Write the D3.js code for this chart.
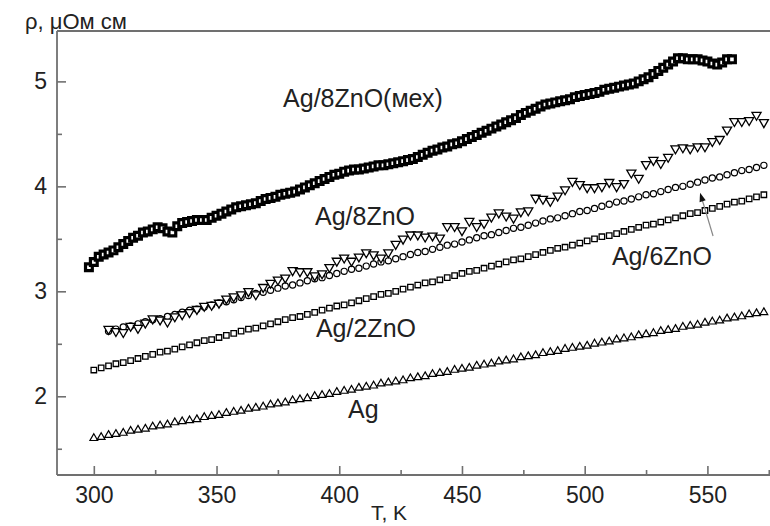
<!DOCTYPE html>
<html><head><meta charset="utf-8">
<script src="https://cdn.jsdelivr.net/npm/d3@7"></script>
<style>body{margin:0;background:#fff}svg{display:block}</style></head>
<body><svg id="c" width="770" height="526"></svg>
<script>
// ---- data ----
const tempsA = [300,303,306,309,312,315,318,321,324,327,330,333,336,339,342,345,348,351,354,357,360,363,366,369,372,375,378,381,384,387,390,393,396,399,402,405,408,411,414,417,420,423,426,429,432,435,438,441,444,447,450,453,456,459,462,465,468,471,474,477,480,483,486,489,492,495,498,501,504,507,510,513,516,519,522,525,528,531,534,537,540,543,546,549,552,555,558,561,564,567,570,573];
const tempsB = [306,309,312,315,318,321,324,327,330,333,336,339,342,345,348,351,354,357,360,363,366,369,372,375,378,381,384,387,390,393,396,399,402,405,408,411,414,417,420,423,426,429,432,435,438,441,444,447,450,453,456,459,462,465,468,471,474,477,480,483,486,489,492,495,498,501,504,507,510,513,516,519,522,525,528,531,534,537,540,543,546,549,552,555,558,561,564,567,570,573];
const tempsMech = [298,300,302,304,306,308,310,312,314,316,318,320,322,324,326,328,330,332,334,336,338,340,342,344,346,348,350,352,354,356,358,360,362,364,366,368,370,372,374,376,378,380,382,384,386,388,390,392,394,396,398,400,402,404,406,408,410,412,414,416,418,420,422,424,426,428,430,432,434,436,438,440,442,444,446,448,450,452,454,456,458,460,462,464,466,468,470,472,474,476,478,480,482,484,486,488,490,492,494,496,498,500,502,504,506,508,510,512,514,516,518,520,522,524,526,528,530,532,534,536,538,540,542,544,546,548,550,552,554,556,558,560];

const rhoAg = [1.60,1.61,1.63,1.64,1.65,1.67,1.68,1.69,1.71,1.72,1.73,1.75,1.76,1.77,1.78,1.80,1.81,1.82,1.84,1.85,1.86,1.88,1.89,1.90,1.92,1.93,1.94,1.96,1.97,1.98,2.00,2.01,2.02,2.04,2.05,2.06,2.08,2.09,2.10,2.12,2.13,2.14,2.15,2.17,2.18,2.19,2.21,2.22,2.23,2.25,2.26,2.27,2.29,2.30,2.31,2.33,2.34,2.35,2.37,2.38,2.39,2.41,2.42,2.43,2.45,2.46,2.47,2.48,2.50,2.51,2.52,2.54,2.55,2.56,2.58,2.59,2.60,2.62,2.63,2.64,2.66,2.67,2.68,2.70,2.71,2.72,2.74,2.75,2.76,2.78,2.79,2.80];
const rhoAg2ZnO = [2.25,2.27,2.29,2.31,2.32,2.34,2.36,2.38,2.40,2.42,2.43,2.45,2.47,2.49,2.51,2.53,2.54,2.56,2.58,2.60,2.62,2.64,2.65,2.67,2.69,2.71,2.73,2.75,2.76,2.78,2.80,2.82,2.84,2.86,2.87,2.89,2.91,2.93,2.95,2.97,2.98,3.00,3.02,3.04,3.06,3.08,3.09,3.11,3.13,3.15,3.17,3.19,3.20,3.22,3.24,3.26,3.28,3.30,3.31,3.33,3.35,3.37,3.39,3.41,3.42,3.44,3.46,3.48,3.50,3.52,3.53,3.55,3.57,3.59,3.61,3.63,3.64,3.66,3.68,3.70,3.72,3.74,3.75,3.77,3.79,3.81,3.83,3.85,3.86,3.88,3.90,3.92];
const rhoAg6ZnO = [2.62,2.64,2.66,2.67,2.69,2.71,2.73,2.74,2.76,2.78,2.80,2.82,2.83,2.85,2.87,2.89,2.90,2.92,2.94,2.96,2.98,2.99,3.01,3.03,3.05,3.06,3.08,3.10,3.12,3.13,3.15,3.17,3.19,3.21,3.22,3.24,3.26,3.28,3.29,3.31,3.33,3.35,3.37,3.38,3.40,3.42,3.44,3.45,3.47,3.49,3.51,3.53,3.54,3.56,3.58,3.60,3.61,3.63,3.65,3.67,3.69,3.70,3.72,3.74,3.76,3.77,3.79,3.81,3.83,3.85,3.86,3.88,3.90,3.92,3.93,3.95,3.97,3.99,4.00,4.02,4.04,4.06,4.08,4.09,4.11,4.13,4.15,4.16,4.18,4.20];
const rhoAg8ZnO = [2.64,2.62,2.61,2.67,2.65,2.70,2.74,2.73,2.71,2.76,2.78,2.80,2.83,2.86,2.87,2.89,2.93,2.95,2.97,3.00,2.97,3.04,3.08,3.11,3.13,3.20,3.19,3.19,3.15,3.17,3.23,3.29,3.32,3.29,3.33,3.37,3.35,3.32,3.37,3.45,3.50,3.54,3.54,3.52,3.53,3.51,3.62,3.62,3.58,3.67,3.62,3.65,3.71,3.75,3.72,3.70,3.76,3.77,3.89,3.88,3.86,3.91,3.97,4.05,4.02,3.99,3.99,4.00,4.04,4.00,4.03,4.13,4.08,4.21,4.25,4.22,4.28,4.36,4.37,4.36,4.38,4.38,4.43,4.45,4.54,4.62,4.62,4.63,4.68,4.61];
const rhoMech = [3.23,3.28,3.33,3.35,3.37,3.39,3.42,3.45,3.48,3.51,3.53,3.56,3.57,3.59,3.61,3.60,3.57,3.56,3.62,3.65,3.66,3.67,3.68,3.68,3.68,3.70,3.72,3.74,3.76,3.78,3.80,3.81,3.82,3.83,3.84,3.86,3.88,3.89,3.90,3.92,3.93,3.94,3.95,3.97,3.99,4.01,4.03,4.05,4.07,4.09,4.11,4.12,4.14,4.15,4.16,4.16,4.17,4.18,4.19,4.20,4.20,4.21,4.22,4.23,4.24,4.25,4.26,4.28,4.30,4.32,4.34,4.35,4.37,4.38,4.40,4.41,4.43,4.45,4.47,4.49,4.51,4.53,4.55,4.57,4.59,4.61,4.63,4.65,4.68,4.70,4.72,4.74,4.76,4.78,4.79,4.80,4.81,4.82,4.83,4.85,4.86,4.87,4.88,4.89,4.90,4.92,4.93,4.94,4.95,4.96,4.97,4.98,5.00,5.02,5.04,5.07,5.10,5.13,5.16,5.19,5.22,5.22,5.21,5.21,5.21,5.20,5.19,5.17,5.16,5.18,5.21,5.21];

const xMajor = [300,350,400,450,500,550];
const xMinor = [325,375,425,475,525,575];
const yMajor = [2,3,4,5];
const yMinor = [1.5,2.5,3.5,4.5];

const labels = [
  {text:"Ag/8ZnO(мех)", t:377.1, v:4.756},
  {text:"Ag/8ZnO", t:390.1, v:3.632},
  {text:"Ag/2ZnO", t:390.5, v:2.565},
  {text:"Ag", t:403.6, v:1.79},
  {text:"Ag/6ZnO", t:511.1, v:3.251}
];
const arrowFrom = {t:552.3, v:3.527};
const arrowTo = {t:547.0, v:3.94};

// ---- chart ----
const svg = d3.select("#c");
const W = 770, H = 526;
const x = d3.scaleLinear().domain([285, 575.5]).range([57, 770]);
const y = d3.scaleLinear().domain([1.25, 5.48]).range([475, 31]);
const axisColor = "#707070";
const font = "'Liberation Sans', Arial, Helvetica, sans-serif";

function styleAxis(g){
  g.select(".domain").remove();
  g.selectAll(".tick line").attr("stroke", axisColor).attr("stroke-width", 1.6);
  g.selectAll("text").attr("fill","#222").style("font-family", font).style("font-size","23px");
}

// x axis
svg.append("g").attr("transform","translate(0,475)")
  .call(d3.axisBottom(x).tickValues(xMajor).tickSize(-9).tickPadding(12).tickFormat(d3.format("d")))
  .call(styleAxis);
svg.append("g").attr("transform","translate(0,475)")
  .call(d3.axisBottom(x).tickValues(xMinor).tickSize(-5).tickFormat(""))
  .call(styleAxis);
// y axis
svg.append("g").attr("transform","translate(57,0)")
  .call(d3.axisLeft(y).tickValues(yMajor).tickSize(-9).tickPadding(10).tickFormat(d3.format("d")))
  .call(styleAxis);
svg.append("g").attr("transform","translate(57,0)")
  .call(d3.axisLeft(y).tickValues(yMinor).tickSize(-5).tickFormat(""))
  .call(styleAxis);

// frame lines
const frame = svg.append("g").attr("stroke", axisColor).attr("stroke-width", 1.8).attr("fill","none");
frame.append("line").attr("x1",57).attr("x2",57).attr("y1",y.range()[1]).attr("y2",y.range()[0]);
frame.append("line").attr("x1",57).attr("x2",W).attr("y1",475).attr("y2",475);
frame.append("line").attr("x1",57).attr("x2",W).attr("y1",31).attr("y2",31);

// axis titles
svg.append("text").attr("x",25).attr("y",29).text("ρ, μОм см")
  .style("font-family",font).style("font-size","22px").attr("fill","#222");
svg.append("text").attr("x",389).attr("y",520).attr("text-anchor","middle").text("T, K")
  .style("font-family",font).style("font-size","21px").attr("fill","#222");

// series
function zip(ts, vs){ return ts.map((t,i)=>({t, v:vs[i]})); }
const plot = svg.append("g");

function drawSymbols(data, type, size, rotate, sw){
  const sym = d3.symbol().type(type).size(size);
  plot.append("g").selectAll("path").data(data).join("path")
    .attr("d", sym)
    .attr("transform", d => `translate(${x(d.t)},${y(d.v)})` + (rotate ? ` rotate(${rotate})` : ""))
    .attr("fill","#fff").attr("stroke","#000").attr("stroke-width", sw);
}

drawSymbols(zip(tempsA, rhoAg), d3.symbolTriangle, 26, 0, 1.2);
drawSymbols(zip(tempsA, rhoAg2ZnO), d3.symbolSquare, 30, 0, 1.3);
plot.append("g").selectAll("circle").data(zip(tempsB, rhoAg6ZnO)).join("circle")
  .attr("cx", d => x(d.t)).attr("cy", d => y(d.v)).attr("r", 3.1)
  .attr("fill","#fff").attr("stroke","#000").attr("stroke-width",1.2);
drawSymbols(zip(tempsB, rhoAg8ZnO), d3.symbolTriangle, 36, 180, 1.3);
drawSymbols(zip(tempsMech, rhoMech), d3.symbolSquare, 46, 0, 3.2);

// annotations
svg.append("g").selectAll("text").data(labels).join("text")
  .attr("x", d => x(d.t)).attr("y", d => y(d.v)).text(d => d.text)
  .style("font-family",font).style("font-size","25px").attr("fill","#222");

// arrow
const ax1 = x(arrowFrom.t), ay1 = y(arrowFrom.v), ax2 = x(arrowTo.t), ay2 = y(arrowTo.v);
const ang = Math.atan2(ay2-ay1, ax2-ax1);
const hl = 9, hw = 3.2;
svg.append("line").attr("x1",ax1).attr("y1",ay1)
  .attr("x2",ax2 - Math.cos(ang)*hl*0.8).attr("y2",ay2 - Math.sin(ang)*hl*0.8)
  .attr("stroke","#888").attr("stroke-width",1.2);
const bx = ax2 - Math.cos(ang)*hl, by = ay2 - Math.sin(ang)*hl;
svg.append("path")
  .attr("d", `M${ax2},${ay2} L${bx - Math.sin(ang)*hw},${by + Math.cos(ang)*hw} L${bx + Math.sin(ang)*hw},${by - Math.cos(ang)*hw} Z`)
  .attr("fill","#111");
</script></body></html>
